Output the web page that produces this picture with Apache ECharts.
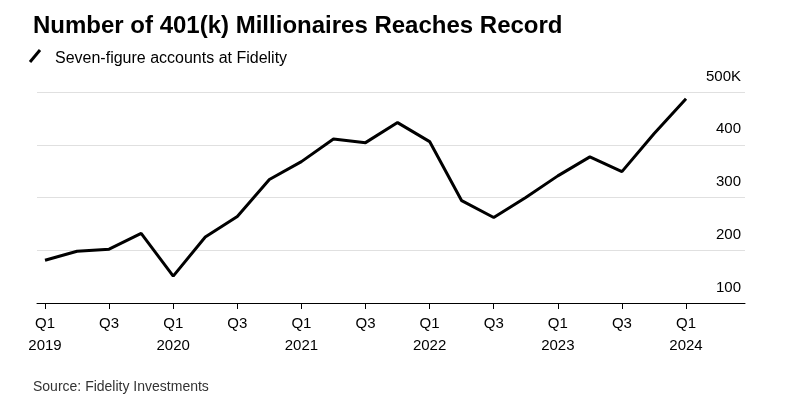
<!DOCTYPE html>
<html><head><meta charset="utf-8">
<script src="https://cdn.jsdelivr.net/npm/echarts@6/dist/echarts.min.js"></script>
<style>body{margin:0;background:#fff}#c{width:796px;height:405px}</style>
</head><body><div id="c"></div>
<script>
const quarters = ['Q1 2019','Q2 2019','Q3 2019','Q4 2019','Q1 2020','Q2 2020','Q3 2020','Q4 2020',
  'Q1 2021','Q2 2021','Q3 2021','Q4 2021','Q1 2022','Q2 2022','Q3 2022','Q4 2022',
  'Q1 2023','Q2 2023','Q3 2023','Q4 2023','Q1 2024'];
const millionaires = [181,198,202,232,151,225,264,334,368,411,404,442,406,294,262,300,341,377,349,421,487];
const tickLabels = ['Q1\n2019','Q3','Q1\n2020','Q3','Q1\n2021','Q3','Q1\n2022','Q3','Q1\n2023','Q3','Q1\n2024'];

const font = 'Liberation Sans, Arial, sans-serif';
const chart = echarts.init(document.getElementById('c'));
chart.setOption({
  animation: false,
  textStyle: { fontFamily: font },
  grid: { left: 37, right: 51, top: 92, bottom: 102 },
  title: [
    { text: 'Number of 401(k) Millionaires Reaches Record', left: 28, top: 9,
      textStyle: { fontSize: 24, fontWeight: 'bold', color: '#000', fontFamily: font } },
    { text: 'Seven-figure accounts at Fidelity', left: 50, top: 46,
      textStyle: { fontSize: 16, fontWeight: 'normal', color: '#000', fontFamily: font } },
    { text: 'Source: Fidelity Investments', left: 28, top: 375,
      textStyle: { fontSize: 14, fontWeight: 'normal', color: '#333', fontFamily: font } }
  ],
  graphic: [{ type: 'line', shape: { x1: 30, y1: 62, x2: 40, y2: 50 },
    style: { stroke: '#000', lineWidth: 3 } }],
  xAxis: {
    type: 'value', min: -0.25, max: 21.84,
    splitLine: { show: false },
    axisLine: { show: true, lineStyle: { color: '#000', width: 1 } },
    axisTick: { show: true, customValues: tickLabels.map((_, i) => i * 2), length: 6, lineStyle: { color: '#000' } },
    axisLabel: { customValues: tickLabels.map((_, i) => i * 2), formatter: v => tickLabels[v / 2],
      color: '#000', fontSize: 15, lineHeight: 22, margin: 10 }
  },
  yAxis: {
    type: 'value', min: 100, max: 500, interval: 100, position: 'right',
    axisLine: { show: false }, axisTick: { show: false },
    splitLine: { lineStyle: { color: '#e0e0e0' } },
    axisLabel: { inside: true, verticalAlign: 'bottom', align: 'right', margin: 4, padding: [0, 0, 8, 0],
      formatter: v => (v === 500 ? v + 'K' : String(v)), color: '#000', fontSize: 15 }
  },
  series: [{
    type: 'line', symbol: 'none',
    data: millionaires.map((v, i) => [i, v]),
    lineStyle: { color: '#000', width: 3 }
  }]
});
</script></body></html>
